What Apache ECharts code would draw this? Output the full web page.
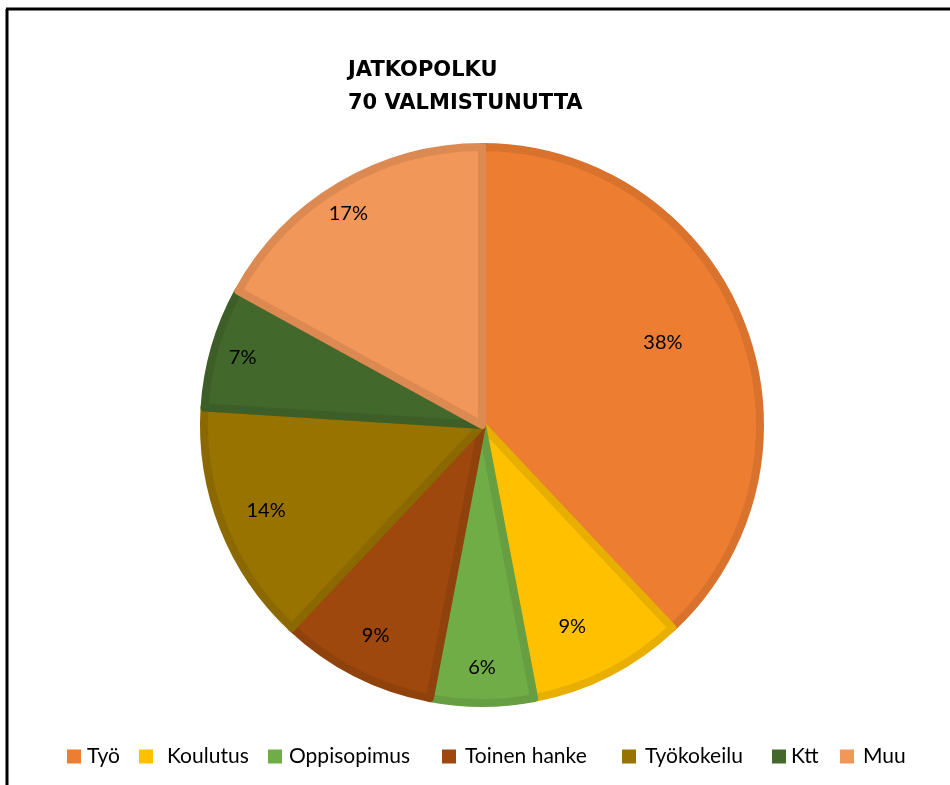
<!DOCTYPE html>
<html>
<head>
<meta charset="utf-8">
<script src="https://cdn.jsdelivr.net/npm/echarts@6/dist/echarts.min.js"></script>
<style>
  html, body { margin: 0; padding: 0; background: #fff; }
  #main { width: 950px; height: 785px; }
</style>
</head>
<body>
<div id="main"></div>
<script>
  // jatkopolut prosentteina (70 valmistunutta)
  const categories = ['Työ', 'Koulutus', 'Oppisopimus', 'Toinen hanke', 'Työkokeilu', 'Ktt', 'Muu']
  const percents = [38, 9, 6, 9, 14, 7, 17]
  const colors = ['#ED7D31', '#FFC000', '#70AD47', '#9E480E', '#997300', '#43682B', '#F1975A']
  const borders = ['#D8722C', '#E8AF00', '#669E41', '#90420D', '#8B6900', '#3D5F27', '#DC8A52']

  // selitteen paikat: neliön vasen reuna ja tekstin väli
  const legendLeft = [62, 134, 263, 437, 617, 767, 835]
  const legendPad = [1, 9, 2, 4, 4, 0, 4]

  const pieData = categories.map((name, i) => ({
    name: name,
    value: percents[i],
    itemStyle: { color: colors[i], borderColor: borders[i] }
  }))

  // vain tekstit, läpinäkyvä rengas jotta prosentit asettuvat lähemmäs reunaa
  const labelOffsets = [[-45, 7], [-20, -15], [0, 0], [4, -6], [10, -4], [-6, 0], [-10, -2]]
  const labelData = categories.map((name, i) => ({
    name: name,
    value: percents[i],
    label: { offset: labelOffsets[i] }
  }))

  const legends = categories.map((name, i) => ({
    data: [name],
    left: legendLeft[i],
    top: 741,
    itemWidth: 14,
    itemHeight: 14,
    icon: 'rect',
    itemStyle: { color: colors[i], borderWidth: 0 },
    textStyle: {
      fontFamily: 'Lato',
      fontSize: 21,
      color: '#000',
      padding: [0, 0, 0, legendPad[i]]
    }
  }))

  const myChart = echarts.init(document.getElementById('main'))
  myChart.setOption({
    animation: false,
    color: colors,
    title: {
      text: 'JATKOPOLKU\n70 VALMISTUNUTTA',
      left: 343,
      top: 49,
      textStyle: {
        fontFamily: 'DejaVu Sans',
        fontWeight: 'bold',
        fontSize: 21,
        lineHeight: 33,
        color: '#000'
      }
    },
    legend: legends,
    graphic: [
      { type: 'line', shape: { x1: 7, y1: 9, x2: 7, y2: 785 }, style: { stroke: '#000', lineWidth: 3 } },
      { type: 'line', shape: { x1: 6, y1: 9, x2: 950, y2: 9 }, style: { stroke: '#000', lineWidth: 3 } }
    ],
    series: [
      {
        type: 'pie',
        center: [482, 425],
        radius: [0, 278],
        startAngle: 90,
        clockwise: true,
        silent: true,
        itemStyle: { borderWidth: 8, borderJoin: 'round' },
        label: { show: false },
        labelLine: { show: false },
        data: pieData
      },
      {
        type: 'pie',
        center: [482, 425],
        radius: [195, 285],
        startAngle: 90,
        clockwise: true,
        silent: true,
        itemStyle: { color: 'rgba(0,0,0,0)' },
        label: {
          show: true,
          position: 'inside',
          fontFamily: 'Lato',
          fontSize: 20,
          color: '#000',
          formatter: p => p.value + '%'
        },
        labelLine: { show: false },
        data: labelData
      }
    ]
  })
</script>
</body>
</html>
